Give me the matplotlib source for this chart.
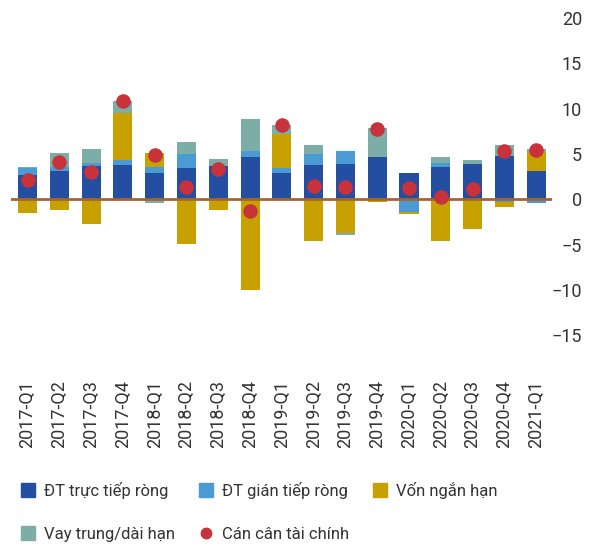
import numpy as np
import matplotlib
matplotlib.use("Agg")
from matplotlib import pyplot as plt
from matplotlib.lines import Line2D

plt.rcParams['font.family'] = ['Roboto', 'DejaVu Sans']

quarters = ["2017-Q1", "2017-Q2", "2017-Q3", "2017-Q4",
            "2018-Q1", "2018-Q2", "2018-Q3", "2018-Q4",
            "2019-Q1", "2019-Q2", "2019-Q3", "2019-Q4",
            "2020-Q1", "2020-Q2", "2020-Q3", "2020-Q4",
            "2021-Q1"]

fdi = [2.68, 3.13, 3.68, 3.79, 2.90, 3.46, 3.68, 4.67, 2.90,
       3.79, 3.90, 4.67, 2.90, 3.57, 3.90, 4.78, 3.13]
portfolio = [0.77, 0.44, 0.33, 0.55, 0.66, 1.54, 0.0, 0.66, 0.55,
             1.21, 1.43, 0.0, -1.36, 0.44, 0.0, -0.26, -0.37]
short_term = [-1.54, -1.14, -2.68, 5.22, 1.54, -4.96, -1.14, -10.04, 3.75,
              -4.56, -3.68, -0.26, -0.22, -4.56, -3.24, -0.55, 2.10]
long_term = [0.10, 1.54, 1.54, 1.29, -0.37, 1.32, 0.77, 3.53, 0.99,
             0.99, -0.22, 3.20, -0.07, 0.66, 0.44, 1.21, 0.33]
balance = [2.13, 4.15, 2.98, 10.85, 4.85, 1.36, 3.38, -1.30, 8.20,
           1.51, 1.40, 7.76, 1.25, 0.22, 1.18, 5.30, 5.44]

series = [
    ("ĐT trực tiếp ròng", fdi, "#244ea2"),
    ("ĐT gián tiếp ròng", portfolio, "#4a9ad3"),
    ("Vốn ngắn hạn", short_term, "#c6a100"),
    ("Vay trung/dài hạn", long_term, "#7cada6"),
]
dot_label = "Cán cân tài chính"
dot_color = "#c8323b"
text_color = "#333333"

fig = plt.figure(figsize=(5.93, 5.45), dpi=100)
ax = fig.add_axes([0.0186, 0.385, 0.9123, 0.582])

x = np.arange(len(quarters))
pos_base = np.zeros(len(quarters))
neg_base = np.zeros(len(quarters))
for name, vals, color in series:
    vals = np.array(vals)
    pos = np.where(vals > 0, vals, 0)
    neg = np.where(vals < 0, vals, 0)
    ax.bar(x, pos, 0.6, bottom=pos_base, color=color, zorder=2)
    ax.bar(x, neg, 0.6, bottom=neg_base, color=color, zorder=2)
    pos_base += pos
    neg_base += neg

ax.axhline(0, color="#a8642e", lw=2, zorder=3)
ax.scatter(x, balance, s=110, color=dot_color, zorder=4, linewidths=0)

ax.set_xlim(-0.52, 16.5)
ax.set_ylim(-15, 20)
ax.set_yticks([-15, -10, -5, 0, 5, 10, 15, 20])
ax.yaxis.tick_right()
ax.tick_params(axis='y', length=0, pad=21.6, labelsize=13, labelcolor=text_color)
for lab in ax.get_yticklabels():
    lab.set_horizontalalignment('right')

ax.set_xticks(x)
ax.set_xticklabels(quarters, rotation=90)
ax.tick_params(axis='x', length=0, pad=81, labelsize=13, labelcolor=text_color)
for lab in ax.get_xticklabels():
    lab.set_verticalalignment('bottom')

for s in ax.spines.values():
    s.set_visible(False)

handles = [Line2D([], [], marker='s', ls='none', markersize=10.2,
                  color=c, label=n) for n, _, c in series]
handles.append(Line2D([], [], marker='o', ls='none', markersize=7.5,
                      color=dot_color, label=dot_label))
order = [0, 3, 1, 4, 2]
leg = fig.legend([handles[i] for i in order], [handles[i].get_label() for i in order],
                 ncol=3, loc='upper left', bbox_to_anchor=(0.0337, 0.115),
                 frameon=False, fontsize=12, handlelength=1.0, handletextpad=0.44,
                 columnspacing=1.38, labelspacing=1.65, borderpad=0, borderaxespad=0)
for t in leg.get_texts():
    t.set_color(text_color)

fig.savefig("out.png", dpi=100)
